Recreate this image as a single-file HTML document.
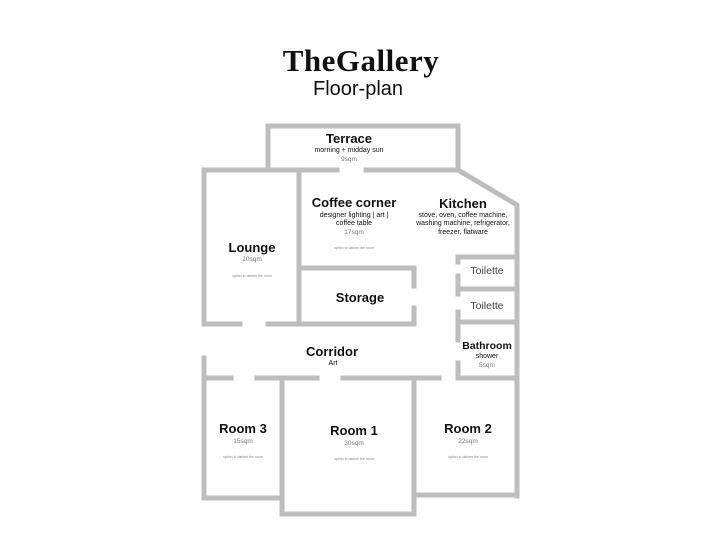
<!DOCTYPE html>
<html><head><style>
body{margin:0;background:#fff;width:720px;height:540px;overflow:hidden;font-family:"Liberation Sans",sans-serif}
svg{position:absolute;left:0;top:0}
.t{position:absolute;text-align:center;color:#111;transform:translateX(-50%);white-space:nowrap;line-height:1.2}
.h{font-weight:bold;font-size:13px}
.s{font-size:7px}
.g{font-size:6.5px;color:#777}
.x{font-size:3.5px;color:#888}
</style></head><body>
<div class="t" style="left:361px;top:42px;font-family:'Liberation Serif',serif;font-weight:bold;font-size:31px;letter-spacing:0.5px">TheGallery</div>
<div class="t" style="left:358px;top:77px;font-size:20px">Floor-plan</div>
<svg width="720" height="540">
<g stroke="#bdbdbd" stroke-width="5" fill="none" stroke-linecap="square">
<polyline points="268,168 268,126 458,126 458,168"/>
<line x1="300" y1="170" x2="337" y2="170"/>
<line x1="366" y1="170" x2="458" y2="170"/>
<polyline points="458,170 517,205 517,496"/>
<polyline points="204,170 298,170"/>
<line x1="204" y1="170" x2="204" y2="324"/>
<line x1="299" y1="170" x2="299" y2="324"/>
<line x1="204" y1="324" x2="240" y2="324"/>
<line x1="268" y1="324" x2="414" y2="324"/>
<line x1="300" y1="268" x2="414" y2="268"/>
<line x1="414" y1="268" x2="414" y2="286"/>
<line x1="414" y1="308" x2="414" y2="324"/>
<line x1="458" y1="257" x2="517" y2="257"/>
<line x1="458" y1="289" x2="517" y2="289"/>
<line x1="458" y1="322" x2="517" y2="322"/>
<line x1="458" y1="257" x2="458" y2="262"/>
<line x1="458" y1="276" x2="458" y2="294"/>
<line x1="458" y1="312" x2="458" y2="340"/>
<line x1="458" y1="363" x2="458" y2="378"/>
<line x1="458" y1="378" x2="517" y2="378"/>
<line x1="204" y1="358" x2="204" y2="498"/>
<line x1="204" y1="378" x2="231" y2="378"/>
<line x1="257" y1="378" x2="317" y2="378"/>
<line x1="343" y1="378" x2="439" y2="378"/>
<line x1="282" y1="378" x2="282" y2="514"/>
<line x1="204" y1="498" x2="282" y2="498"/>
<line x1="282" y1="514" x2="414" y2="514"/>
<line x1="414" y1="378" x2="414" y2="514"/>
<line x1="414" y1="495" x2="517" y2="495"/>
</g>
</svg>
<div class="t h" style="left:349px;top:131px">Terrace</div>
<div class="t s" style="left:349px;top:147px">morning + midday sun</div>
<div class="t g" style="left:349px;top:156px">9sqm</div>
<div class="t h" style="left:354px;top:195px">Coffee corner</div>
<div class="t s" style="left:354px;top:212px">designer lighting | art |<br>coffee table</div>
<div class="t g" style="left:354px;top:229px">17sqm</div>
<div class="t x" style="left:354px;top:246px">option to darken the room</div>
<div class="t h" style="left:463px;top:196px">Kitchen</div>
<div class="t s" style="left:463px;top:212px">stove, oven, coffee machine,<br>washing machine, refrigerator,<br>freezer, flatware</div>
<div class="t h" style="left:252px;top:240px">Lounge</div>
<div class="t g" style="left:252px;top:256px">20sqm</div>
<div class="t x" style="left:252px;top:274px">option to darken the room</div>
<div class="t" style="left:487px;top:265px;font-size:10.5px;color:#444">Toilette</div>
<div class="t" style="left:487px;top:300px;font-size:10.5px;color:#444">Toilette</div>
<div class="t h" style="left:360px;top:290px">Storage</div>
<div class="t h" style="left:487px;top:340px;font-size:10.5px">Bathroom</div>
<div class="t s" style="left:487px;top:353px">shower</div>
<div class="t g" style="left:487px;top:362px">5sqm</div>
<div class="t h" style="left:332px;top:344px">Corridor</div>
<div class="t s" style="left:333px;top:360px">Art</div>
<div class="t h" style="left:243px;top:421px">Room 3</div>
<div class="t g" style="left:243px;top:438px">15sqm</div>
<div class="t x" style="left:243px;top:455px">option to darken the room</div>
<div class="t h" style="left:354px;top:423px">Room 1</div>
<div class="t g" style="left:354px;top:440px">30sqm</div>
<div class="t x" style="left:354px;top:457px">option to darken the room</div>
<div class="t h" style="left:468px;top:421px">Room 2</div>
<div class="t g" style="left:468px;top:438px">22sqm</div>
<div class="t x" style="left:468px;top:455px">option to darken the room</div>
</body></html>
